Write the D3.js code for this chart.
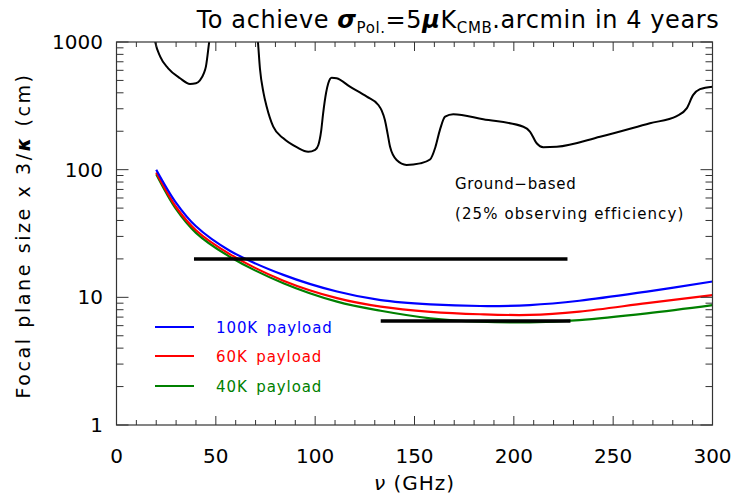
<!DOCTYPE html>
<html>
<head>
<meta charset="utf-8">
<script src="https://cdn.jsdelivr.net/npm/d3@7"></script>
<style>
body { margin: 0; background: #fff; }
svg { font-family: "DejaVu Sans", sans-serif; }
</style>
</head>
<body>
<svg width="736" height="497"></svg>
<script>
// ground-based curve (GHz, cm); null = off the top of the plot (60 GHz O2 band)
var groundFreq = [18, 19.5, 22, 26, 32, 37, 40, 42, 44, 45, 46.6, 48, 60, 70.5, 71.2, 72.2, 74, 75.6, 78.9, 84, 90.7, 96.5, 100, 101.6, 103, 104, 105.5, 106.6, 108.3, 110.8, 117.5, 126, 131.8, 133.5, 135.1, 136.5, 137.7, 141, 146, 152.8, 157.8, 160.5, 162.8, 165.4, 169.5, 184.6, 204.8, 208.1, 211.5, 214.8, 221.6, 243.4, 268.5, 282, 287, 290.3, 293.7, 300];
var groundSize = [1400, 1000, 767, 622, 520, 469, 475, 500, 570, 641, 990, 1500, null, 1300, 1000, 620, 400, 311, 217, 176, 150, 138, 143, 156, 200, 275, 400, 475, 525, 520, 447, 373, 321, 290, 245, 190, 151, 119, 109, 112, 120, 150, 205, 260, 272, 248, 217, 199, 161, 150, 151, 181, 231, 263, 302, 385, 427, 447];

var payloadFreq = [20, 30, 40, 57, 84, 111, 133, 158, 183, 208, 233, 267, 300];
var size100K = [100, 55, 36, 23.2, 15.0, 11.1, 9.5, 8.8, 8.55, 8.7, 9.4, 11.1, 13.3];
var size60K  = [95, 51, 33.5, 21.8, 13.5, 9.85, 8.45, 7.7, 7.37, 7.28, 7.73, 9.0, 10.4];
var size40K  = [92, 49, 32, 20.8, 12.9, 9.25, 7.85, 6.85, 6.44, 6.37, 6.64, 7.5, 8.7];

var payloadNames = ["100K payload", "60K payload", "40K payload"];
var payloadColors = ["#0000ff", "#ff0000", "#008000"];

// black horizontal bars
var barStart = [39, 133];
var barEnd = [227, 228.5];
var barSize = [20, 6.53];

var xTicks = [0, 50, 100, 150, 200, 250, 300];
var yTicks = [1, 10, 100, 1000];

var svg = d3.select("svg"),
    pLeft = 116.5, pRight = 712.5, pTop = 42, pBottom = 425;

var x = d3.scaleLinear().domain([0, 300]).range([pLeft, pRight]);
var y = d3.scaleLog().domain([1, 1000]).range([pBottom, pTop]);

svg.append("defs").append("clipPath").attr("id", "plot")
  .append("rect").attr("x", pLeft).attr("y", pTop)
  .attr("width", pRight - pLeft).attr("height", pBottom - pTop);

var plot = svg.append("g").attr("clip-path", "url(#plot)");

// ground-based curve
var ground = groundFreq.map(function(f, i) { return {f: f, v: groundSize[i]}; });
plot.append("path")
    .datum(ground)
    .attr("fill", "none")
    .attr("stroke", "#000")
    .attr("stroke-width", 2)
    .attr("d", d3.line()
      .defined(function(d) { return d.v != null; })
      .x(function(d) { return x(d.f); })
      .y(function(d) { return y(d.v); })
      .curve(d3.curveMonotoneX));

// payload curves, green first so blue ends up on top
var series = [size100K, size60K, size40K];
[2, 1, 0].forEach(function(k) {
  plot.append("path")
      .datum(payloadFreq.map(function(f, i) { return {f: f, v: series[k][i]}; }))
      .attr("fill", "none")
      .attr("stroke", payloadColors[k])
      .attr("stroke-width", 2.2)
      .attr("d", d3.line()
        .x(function(d) { return x(d.f); })
        .y(function(d) { return y(d.v); })
        .curve(d3.curveCatmullRom.alpha(0.5)));
});

// horizontal bars
plot.selectAll("line.bar")
  .data(barSize)
  .enter().append("line")
    .attr("class", "bar")
    .attr("x1", function(d, i) { return x(barStart[i]); })
    .attr("x2", function(d, i) { return x(barEnd[i]); })
    .attr("y1", function(d) { return y(d); })
    .attr("y2", function(d) { return y(d); })
    .attr("stroke", "#000")
    .attr("stroke-width", 3.5);

// axes: ticks inward on all four sides
var axisColor = "#333";
var xMinor = d3.range(0, 301, 10).filter(function(v) { return v % 50 != 0; });
var yMinor = [];
[1, 10, 100].forEach(function(p) { for (var m = 2; m < 10; m++) yMinor.push(p * m); });

svg.append("rect")
    .attr("x", pLeft).attr("y", pTop)
    .attr("width", pRight - pLeft).attr("height", pBottom - pTop)
    .attr("fill", "none").attr("stroke", axisColor).attr("stroke-width", 1.2);

function xTickMarks(vals, len) {
  [pBottom, pTop].forEach(function(y0, s) {
    svg.append("g").selectAll("line").data(vals).enter().append("line")
      .attr("x1", function(d) { return x(d); })
      .attr("x2", function(d) { return x(d); })
      .attr("y1", y0)
      .attr("y2", s == 0 ? y0 - len : y0 + len)
      .attr("stroke", axisColor);
  });
}
function yTickMarks(vals, len) {
  [pLeft, pRight].forEach(function(x0, s) {
    svg.append("g").selectAll("line").data(vals).enter().append("line")
      .attr("y1", function(d) { return y(d); })
      .attr("y2", function(d) { return y(d); })
      .attr("x1", x0)
      .attr("x2", s == 0 ? x0 + len : x0 - len)
      .attr("stroke", axisColor);
  });
}
xTickMarks(xTicks, 9);
xTickMarks(xMinor, 5);
yTickMarks(yTicks, 12);
yTickMarks(yMinor, 7);

svg.append("g").selectAll("text").data(xTicks).enter().append("text")
    .attr("x", function(d) { return x(d); })
    .attr("y", 463)
    .attr("text-anchor", "middle")
    .style("font-size", "20px")
    .text(function(d) { return d; });

svg.append("g").selectAll("text").data(yTicks).enter().append("text")
    .attr("x", 103)
    .attr("y", function(d) { return y(d) + 7; })
    .attr("text-anchor", "end")
    .style("font-size", "20px")
    .text(function(d) { return d; });

// axis titles
var xt = svg.append("text")
    .attr("x", x(150)).attr("y", 490)
    .attr("text-anchor", "middle")
    .style("font-size", "20px")
    .style("letter-spacing", "1px");
xt.append("tspan").style("font-style", "italic").text("\u03bd");
xt.append("tspan").text("  (GHz)");

var yt = svg.append("text")
    .attr("transform", "translate(30," + ((pTop + pBottom) / 2 + 2) + ") rotate(-90)")
    .attr("text-anchor", "middle")
    .style("font-size", "19px")
    .style("letter-spacing", "2.6px");
yt.append("tspan").text("Focal plane size x 3/");
yt.append("tspan").style("font-style", "italic").style("font-weight", "bold").text("\u03ba");
yt.append("tspan").text(" (cm)");

// title
var title = svg.append("text")
    .attr("x", 458).attr("y", 28)
    .attr("text-anchor", "middle")
    .style("font-size", "24px")
    .style("letter-spacing", "0.6px");
title.append("tspan").text("To achieve ");
title.append("tspan").style("font-style", "italic").style("font-weight", "bold").text("\u03c3");
title.append("tspan").attr("dy", 5).style("font-size", "15px").text("Pol.");
title.append("tspan").attr("dy", -5).text("=5");
title.append("tspan").style("font-style", "italic").style("font-weight", "bold").text("\u03bc");
title.append("tspan").text("K");
title.append("tspan").attr("dy", 5).style("font-size", "15px").text("CMB");
title.append("tspan").attr("dy", -5).text(".arcmin in 4 years");

// annotation
svg.append("text").attr("x", 455).attr("y", 189)
    .style("font-size", "15px").style("letter-spacing", "0.7px")
    .text("Ground\u2212based");
svg.append("text").attr("x", 455).attr("y", 219)
    .style("font-size", "15px").style("letter-spacing", "1.1px")
    .text("(25% observing efficiency)");

// legend
var legendY = [327, 356, 386];
var legend = svg.append("g").selectAll("g").data(payloadNames).enter().append("g");
legend.append("line")
    .attr("x1", 155).attr("x2", 194)
    .attr("y1", function(d, i) { return legendY[i]; })
    .attr("y2", function(d, i) { return legendY[i]; })
    .attr("stroke", function(d, i) { return payloadColors[i]; })
    .attr("stroke-width", 2);
legend.append("text")
    .attr("x", 216)
    .attr("y", function(d, i) { return legendY[i] + 6; })
    .attr("fill", function(d, i) { return payloadColors[i]; })
    .style("font-size", "15px")
    .style("letter-spacing", "0.9px")
    .style("word-spacing", "3px")
    .text(function(d) { return d; });
</script>
</body>
</html>
